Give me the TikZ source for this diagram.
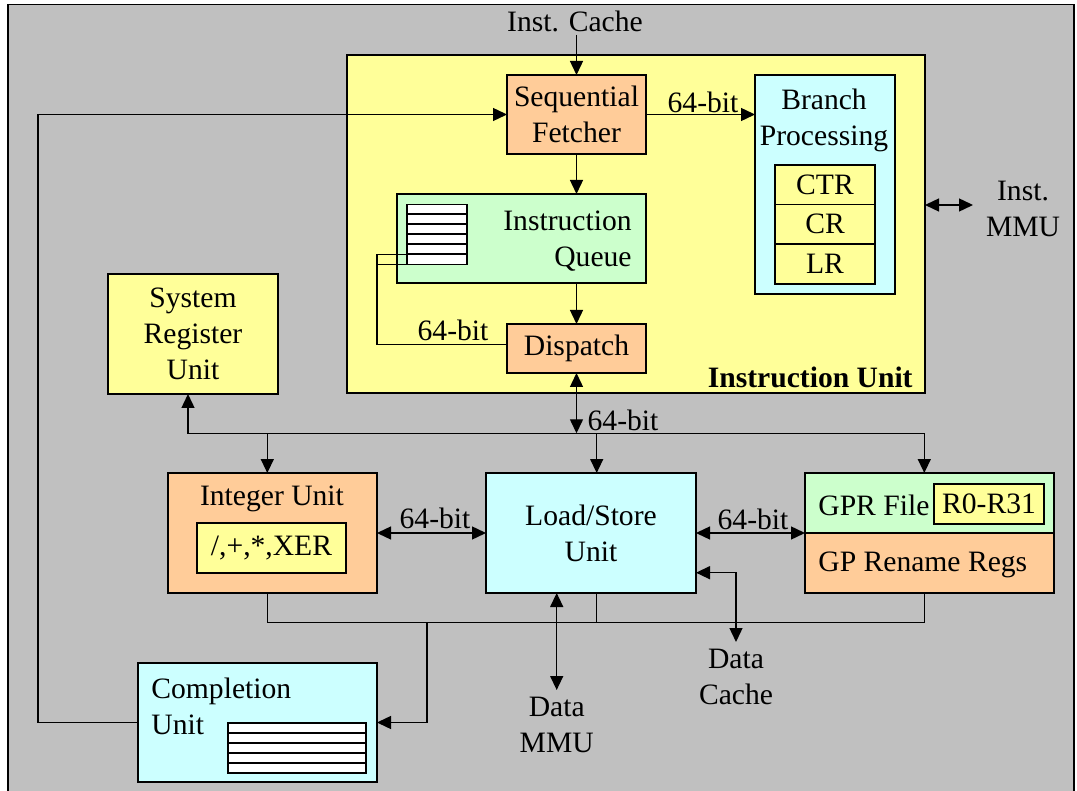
\documentclass[tikz,border=0pt]{standalone}
\usepackage{fontspec}
\setmainfont{Liberation Serif}
\usetikzlibrary{arrows.meta}
\definecolor{framegray}{HTML}{C0C0C0}
\definecolor{unitylw}{HTML}{FFFF99}
\definecolor{unitorg}{HTML}{FFCC99}
\definecolor{unitcyn}{HTML}{CCFFFF}
\definecolor{unitgrn}{HTML}{CCFFCC}

% box from its corner coordinates: name, x1, y1, x2, y2, fill, text
\newcommand\unitbox[7]{%
  \node[box, fill=#6, minimum width={(#4-#2)*0.5pt}, minimum height={(#5-#3)*0.5pt}]
    (#1) at ({(#2+#4)/2},{(#3+#5)/2}) {#7};}

\begin{document}
\begin{tikzpicture}[x=0.5pt, y=-0.5pt,
  >={Triangle[length=7pt,width=6.5pt]},
  box/.style={draw, line width=0.75pt, inner sep=0pt, outer sep=0pt, lbl},
  lbl/.style={font=\fontsize{14.8}{18}\selectfont, inner sep=0pt, align=center},
  wire/.style={line width=0.7pt},
  stripe/.style={line width=0.9pt}]

\useasboundingbox (0,0) rectangle (1077,791);
\draw[fill=framegray, line width=0.75pt] (8,4.5) rectangle (1074,800);

% ---------------- instruction unit ----------------
\unitbox{IU}{347}{55}{925}{393}{unitylw}{}
\node[lbl, font=\fontsize{14.8}{18}\selectfont\bfseries, anchor=base east] (IUt) at (913,387) {Instruction Unit};

\unitbox{SF}{507}{75}{646}{154}{unitorg}{Sequential\\Fetcher}
\unitbox{BP}{755}{75}{895}{294}{unitcyn}{}
\node[lbl] (BPt) at (824,120) {Branch\\Processing};
\unitbox{CTR}{775}{165}{875}{204.3}{unitylw}{CTR}
\unitbox{CR}{775}{204.3}{875}{244}{unitylw}{CR}
\unitbox{LR}{775}{244}{875}{284}{unitylw}{LR}

\unitbox{IQ}{397}{194}{646}{283}{unitgrn}{}
\node[lbl, align=right, anchor=east] (IQt) at (632,241) {Instruction\\Queue};
\unitbox{QS}{407}{204.3}{467}{264.3}{white}{}
\foreach \y in {214.3,224.3,234.3,244.3,254.3}
  \draw[stripe] (407,\y) -- (467,\y);

\unitbox{DP}{507}{324}{646}{373}{unitorg}{Dispatch}

% ---------------- execution units ----------------
\unitbox{SRU}{108}{274}{278}{394}{unitylw}{System\\Register\\Unit}

\unitbox{INT}{168}{473}{377}{593}{unitorg}{}
\node[lbl] (INTt) at (272,499) {Integer Unit};
\unitbox{XER}{197}{523}{346}{573}{unitylw}{/,+,*,XER}

\unitbox{LSU}{486}{473}{696}{593}{unitcyn}{Load/Store\\Unit}

\unitbox{GPR}{805}{473}{1054}{533}{unitgrn}{}
\unitbox{GPRR}{805}{533}{1054}{593}{unitorg}{}
\unitbox{RR}{934}{484}{1044}{524}{unitylw}{R0-R31}
\node[lbl, anchor=west] (GPRt) at (818,505) {GPR File};
\node[lbl, anchor=west] (GPRRt) at (818,565) {GP Rename Regs};

\unitbox{CU}{138}{663}{377}{782}{unitcyn}{}
\node[lbl, align=left, anchor=west] (CUt) at (151,706) {Completion\\Unit};
\unitbox{CS}{228}{723}{366}{773}{white}{}
\foreach \y in {733,743,753,763}
  \draw[stripe] (228,\y) -- (366,\y);

% ---------------- outside labels ----------------
\node[lbl] (IC) at (575,21) {Inst. Cache};
\node[lbl] (IMMU) at (1023,209) {Inst.\\MMU};
\node[lbl] (DMMU) at (556.7,725) {Data\\MMU};
\node[lbl] (DC) at (736,677) {Data\\Cache};

\node[lbl] (w1) at (703,102) {64-bit};
\node[lbl] (w2) at (453,330) {64-bit};
\node[lbl] (w3) at (623,420) {64-bit};
\node[lbl] (w4) at (435,518) {64-bit};
\node[lbl] (w5) at (753,519) {64-bit};

% ---------------- connectors ----------------
\coordinate (icEnd) at (576.5,35);
\draw[wire,->] (icEnd) -- (SF.north);

\coordinate (loopL) at (38,722.5);
\draw[wire,->] (CU.west) -- (loopL) |- (SF.west);

\draw[wire,->] (SF.east) -- (SF.east -| BP.west);
\draw[wire,->] (SF.south) -- (SF.south |- IQ.north);
\draw[wire,->] (DP.north |- IQ.south) -- (DP.north);

\coordinate (qa) at (407,254.3);
\coordinate (qb) at (407,264.3);
\coordinate (qc) at (377,344.3);
\draw[wire] (qa) -| (qc) -- (qc -| DP.west);
\draw[wire] (qb) -- (qb -| qc);

\coordinate (imA) at (973,205);
\draw[wire,<->] (imA -| IU.east) -- (imA);

% upper bus
\coordinate (busL) at (188,433.3);
\coordinate (busR) at (924.3,433.3);
\coordinate (busI) at (267.3,433.3);
\coordinate (busD) at (576.5,433.3);
\coordinate (busS) at (596.7,433.3);
\draw[wire,->] (busR) -- (busL) -- (busL |- SRU.south);
\draw[wire,->] (busR) -- (busR |- GPR.north);
\draw[wire,->] (busI) -- (busI |- INT.north);
\draw[wire,->] (busS) -- (busS |- LSU.north);
\draw[wire,<->] (DP.south) -- (busD);

\draw[wire,<->] (INT.east) -- (LSU.west);
\draw[wire,<->] (LSU.east) -- (GPRR.north west);

\coordinate (dcTurn) at (736,572.7);
\coordinate (dcEnd) at (736,642);
\draw[wire,<->] (dcTurn -| LSU.east) -- (dcTurn) -- (dcEnd);

\coordinate (dmEnd) at (556.7,690);
\draw[wire,<->] (dmEnd |- LSU.south) -- (dmEnd);

% lower bus to completion
\coordinate (lbI) at (267.3,622.7);
\coordinate (lbG) at (924.3,622.7);
\coordinate (lbS) at (596.7,622.7);
\coordinate (lbC) at (427,622.7);
\draw[wire] (lbI |- INT.south) -- (lbI) -- (lbG) -- (lbG |- GPRR.south);
\draw[wire] (lbS |- LSU.south) -- (lbS);
\draw[wire,->] (lbC) |- (CU.east);

\end{tikzpicture}
\end{document}
